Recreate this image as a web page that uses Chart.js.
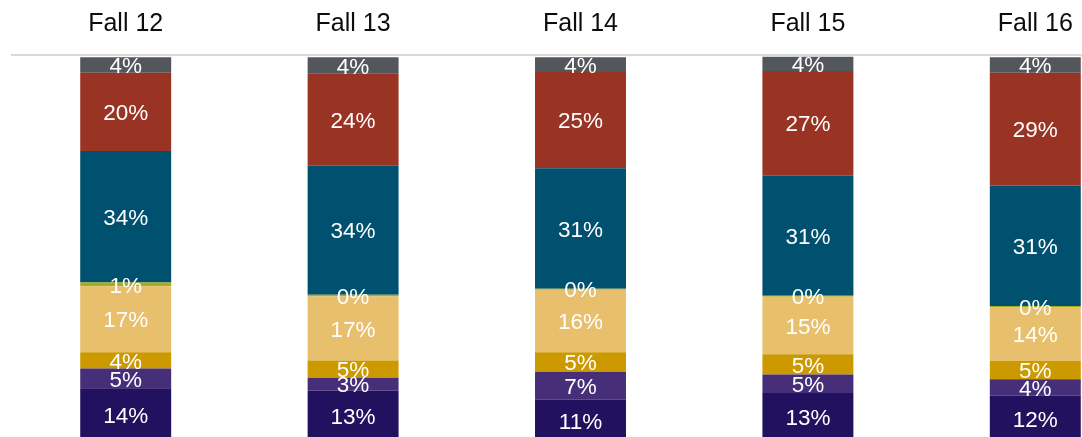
<!DOCTYPE html>
<html>
<head>
<meta charset="utf-8">
<script src="https://cdn.jsdelivr.net/npm/chart.js@4.4.1/dist/chart.umd.min.js"></script>
<style>
  html, body { margin: 0; padding: 0; background: #ffffff; }
  body { width: 1082px; height: 437px; overflow: hidden; position: relative; }
  #wrap { position: absolute; left: 0; top: 0; width: 1149px; height: 441px; }
</style>
</head>
<body>
<div id="wrap"><canvas id="c" width="1149" height="441"></canvas></div>
<script>
// ---- data (percent of total, bottom segment first) ----
const categories = ['Fall 12', 'Fall 13', 'Fall 14', 'Fall 15', 'Fall 16'];

const seriesNames = ['Group 1', 'Group 2', 'Group 3', 'Group 4', 'Group 5', 'Group 6', 'Group 7', 'Group 8'];

const group1 = [13.73, 13.17, 10.76, 12.5, 11.78];  // navy (bottom)
const group2 = [5.14, 3.3, 7.3, 4.8, 4.3];          // purple
const group3 = [4.26, 4.5, 5.07, 5.3, 4.86];        // gold
const group4 = [17.2, 16.7, 16.3, 15.0, 14.0];      // tan
const group5 = [0.97, 0.45, 0.26, 0.26, 0.26];      // yellow-green
const group6 = [34.3, 33.6, 31.4, 31.3, 31.4];      // teal blue
const group7 = [20.4, 24.1, 25.07, 27.3, 29.4];     // red
const group8 = [4.0, 4.18, 3.84, 3.7, 4.0];         // gray (top)

const seriesValues = [group1, group2, group3, group4, group5, group6, group7, group8];
const seriesColors = ['#22115e', '#462f78', '#cc9900', '#e8bf6c', '#a8ad1c', '#00506f', '#993324', '#53575c'];

const FONT = '"Liberation Sans", Arial, sans-serif';

const segLabels = {
  id: 'segLabels',
  afterDatasetsDraw(chart) {
    const ctx = chart.ctx;
    ctx.save();
    ctx.font = '22.5px ' + FONT;
    ctx.fillStyle = '#ffffff';
    ctx.textAlign = 'center';
    ctx.textBaseline = 'middle';
    chart.data.datasets.forEach((ds, di) => {
      const meta = chart.getDatasetMeta(di);
      meta.data.forEach((bar, i) => {
        const v = ds.data[i];
        const cy = (bar.y + bar.base) / 2;
        ctx.fillText(Math.round(v) + '%', bar.x, cy + 2);
      });
    });
    ctx.restore();
  }
};

new Chart(document.getElementById('c'), {
  type: 'bar',
  data: {
    labels: categories,
    datasets: seriesValues.map((vals, i) => ({
      label: seriesNames[i],
      data: vals,
      backgroundColor: seriesColors[i],
      borderWidth: 0,
      categoryPercentage: 1.0,
      barPercentage: 0.4
    }))
  },
  options: {
    responsive: false,
    animation: false,
    layout: { padding: { left: 12, right: 0, top: 0, bottom: 0 } },
    plugins: {
      legend: { display: false },
      tooltip: { enabled: false }
    },
    scales: {
      x: {
        position: 'top',
        stacked: true,
        grid: { display: false, drawTicks: false },
        border: { display: true, color: '#d9d9d9', width: 2 },
        ticks: {
          color: '#0d0d0d',
          font: { family: FONT, size: 25 },
          padding: 16
        },
        afterFit(scale) { scale.height = 55; }
      },
      y: {
        display: false,
        stacked: true,
        min: 0,
        max: 100.6
      }
    }
  },
  plugins: [segLabels]
});
</script>
</body>
</html>
